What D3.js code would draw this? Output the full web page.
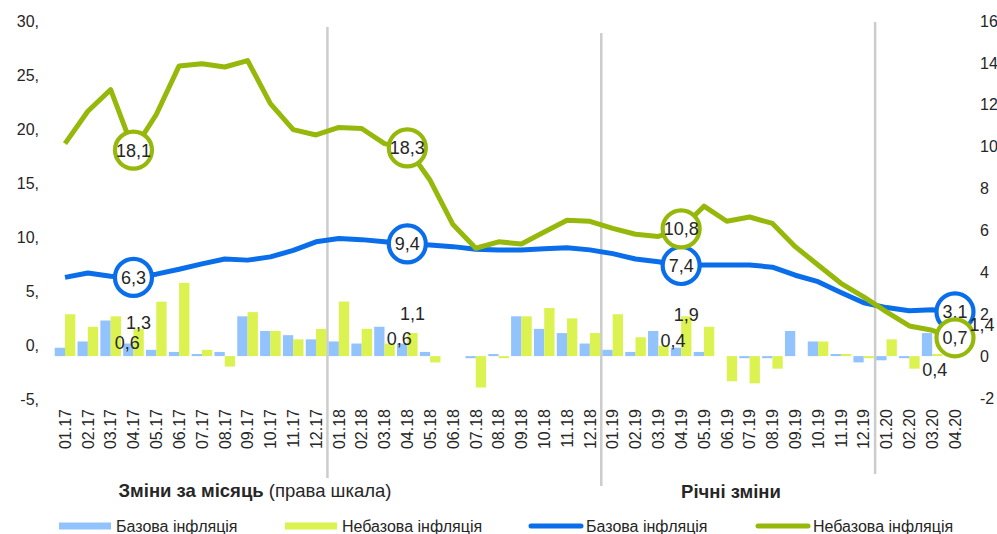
<!DOCTYPE html>
<html>
<head>
<meta charset="utf-8">
<script src="https://cdn.jsdelivr.net/npm/d3@7"></script>
<style>
    body { margin: 0; background: #fff; }
    svg { font-family: "Liberation Sans", Arial, sans-serif; }
</style>
</head>
<body>
<svg id="chart" width="997" height="534"></svg>
<script>

var months = ["01.17","02.17","03.17","04.17","05.17","06.17","07.17","08.17","09.17","10.17","11.17","12.17",
              "01.18","02.18","03.18","04.18","05.18","06.18","07.18","08.18","09.18","10.18","11.18","12.18",
              "01.19","02.19","03.19","04.19","05.19","06.19","07.19","08.19","09.19","10.19","11.19","12.19",
              "01.20","02.20","03.20","04.20"];

// monthly changes, right scale
var coreMonthly    = [0.4, 0.7, 1.7, 0.6, 0.3, 0.2, 0.1, 0.2, 1.9, 1.2, 1.0, 0.8,
                      0.7, 0.6, 1.4, 0.6, 0.2, 0.0, -0.1, 0.1, 1.9, 1.3, 1.1, 0.6,
                      0.3, 0.2, 1.2, 0.4, 0.2, 0.0, -0.1, -0.1, 1.2, 0.7, 0.1, -0.3,
                      -0.2, -0.1, 1.1, 0.4];
var nonCoreMonthly = [2.0, 1.4, 1.9, 1.3, 2.6, 3.5, 0.3, -0.5, 2.1, 1.2, 0.8, 1.3,
                      2.6, 1.3, 0.6, 1.1, -0.3, 0.0, -1.5, -0.1, 1.9, 2.3, 1.8, 1.1,
                      2.0, 0.9, 0.5, 1.9, 1.4, -1.2, -1.3, -0.6, 0.0, 0.7, 0.1, -0.1,
                      0.8, -0.6, 0.1, 1.4];

// annual changes, left scale
var coreAnnual     = [6.3, 6.7, 6.4, 6.3, 6.6, 7.05, 7.55, 8.0, 7.9, 8.2, 8.8, 9.6,
                      9.9, 9.8, 9.6, 9.4, 9.3, 9.15, 8.9, 8.85, 8.85, 8.95, 9.05, 8.85,
                      8.5, 8.0, 7.75, 7.4, 7.45, 7.45, 7.45, 7.25, 6.5, 5.9, 4.9, 3.95,
                      3.5, 3.2, 3.3, 3.1];
var nonCoreAnnual  = [18.7, 21.7, 23.7, 18.1, 21.4, 25.9, 26.1, 25.8, 26.4, 22.4, 20.0, 19.5,
                      20.2, 20.1, 18.7, 18.3, 15.3, 11.2, 9.0, 9.6, 9.4, 10.5, 11.6, 11.5,
                      10.85, 10.3, 10.1, 10.8, 12.9, 11.5, 11.9, 11.3, 9.15, 7.45, 5.75, 4.5,
                      3.1, 1.8, 1.4, 0.7];

var leftTicks  = [-5, 0, 5, 10, 15, 20, 25, 30];
var rightTicks = [-2, 0, 2, 4, 6, 8, 10, 12, 14, 16];
var yearStarts = ["01.18", "01.19", "01.20"];
var markedMonths = ["04.17", "04.18", "04.19", "04.20"];

var coreBarColor = "#93c3fd", nonCoreBarColor = "#dbf250";
var coreLineColor = "#0a6eea", nonCoreLineColor = "#95b80a";
var textColor = "#262626";

var svg = d3.select("#chart");
var comma = function (v) { return d3.format(".1f")(v).replace(".", ","); };

var x = d3.scaleBand().domain(months).range([53.6, 966.4]).padding(0);
var yL = d3.scaleLinear().domain([-5, 30]).range([399.3, 21.7]);
var yR = d3.scaleLinear().domain([-2, 16]).range([398, 21]);
var barW = 10.3;

//****************************YEAR SEPARATORS***************************************************
var sepExtent = [[27, 478], [33, 486], [22, 474]];
svg.append("g").selectAll("line")
    .data(yearStarts)
    .enter().append("line")
    .attr("x1", function (d) { return x(d); })
    .attr("x2", function (d) { return x(d); })
    .attr("y1", function (d, i) { return sepExtent[i][0]; })
    .attr("y2", function (d, i) { return sepExtent[i][1]; })
    .attr("stroke", "#cccccc")
    .attr("stroke-width", 2.5);

//****************************AXES***************************************************
var axisL = svg.append("g").attr("transform", "translate(39,0)")
    .call(d3.axisLeft(yL).tickValues(leftTicks).tickSize(0).tickPadding(0)
        .tickFormat(function (d) { return d + ","; }));
var axisR = svg.append("g").attr("transform", "translate(980,0)")
    .call(d3.axisRight(yR).tickValues(rightTicks).tickSize(0).tickPadding(0)
        .tickFormat(function (d) { return String(d); }));
var axisX = svg.append("g").attr("transform", "translate(0,409)")
    .call(d3.axisBottom(x).tickSize(0));

[axisL, axisR, axisX].forEach(function (a) {
    a.select(".domain").remove();
    a.selectAll("text").attr("fill", textColor).style("font-size", "16px")
        .style("font-family", "'Liberation Sans', Arial, sans-serif");
});
axisX.selectAll("text")
    .attr("transform", "rotate(-90)")
    .attr("text-anchor", "end")
    .attr("x", 0).attr("y", 0).attr("dy", "0.36em");

//****************************BARS***************************************************
var barG = svg.append("g");
barG.selectAll("rect.core")
    .data(months)
    .enter().append("rect")
    .attr("class", "core")
    .attr("x", function (d) { return x(d) + x.bandwidth() / 2 - barW; })
    .attr("width", barW)
    .attr("y", function (d, i) { return yR(Math.max(0, coreMonthly[i])); })
    .attr("height", function (d, i) { return Math.abs(yR(coreMonthly[i]) - yR(0)); })
    .attr("fill", coreBarColor);
barG.selectAll("rect.noncore")
    .data(months)
    .enter().append("rect")
    .attr("class", "noncore")
    .attr("x", function (d) { return x(d) + x.bandwidth() / 2; })
    .attr("width", barW)
    .attr("y", function (d, i) { return yR(Math.max(0, nonCoreMonthly[i])); })
    .attr("height", function (d, i) { return Math.abs(yR(nonCoreMonthly[i]) - yR(0)); })
    .attr("fill", nonCoreBarColor);

//****************************LINES***************************************************
var cx = function (d) { return x(d) + x.bandwidth() / 2; };
function drawLine(values, color) {
    var line = d3.line()
        .x(function (d) { return cx(d); })
        .y(function (d, i) { return yL(values[i]); });
    svg.append("path")
        .datum(months)
        .attr("d", line)
        .attr("fill", "none")
        .attr("stroke", color)
        .attr("stroke-width", 5)
        .attr("stroke-linejoin", "round");
}
drawLine(coreAnnual, coreLineColor);
drawLine(nonCoreAnnual, nonCoreLineColor);

//****************************MARKED POINTS***************************************************
function drawMarks(values, color) {
    var g = svg.append("g").selectAll("g")
        .data(markedMonths)
        .enter().append("g")
        .attr("transform", function (d) {
            return "translate(" + cx(d) + "," + yL(values[months.indexOf(d)]) + ")";
        });
    g.append("circle")
        .attr("r", 18.5)
        .attr("fill", "#fff")
        .attr("stroke", color)
        .attr("stroke-width", 4.2);
    g.append("text")
        .attr("text-anchor", "middle")
        .attr("dy", "0.36em")
        .attr("fill", textColor)
        .style("font-size", "18px")
        .text(function (d) { return comma(values[months.indexOf(d)]); });
}
drawMarks(coreAnnual, coreLineColor);
drawMarks(nonCoreAnnual, nonCoreLineColor);

//****************************BAR LABELS***************************************************
// nudges from the top of the bar, as placed in the original
var coreNudge    = [[-1, -1], [-3, -5], [-3, -7], [-15, 22]];
var nonCoreNudge = [[0, -6], [0, -20], [0, -2], [22, -2]];
function drawBarLabels(values, side, nudge) {
    svg.append("g").selectAll("text")
        .data(markedMonths)
        .enter().append("text")
        .attr("x", function (d, i) { return cx(d) + side * barW / 2 + nudge[i][0]; })
        .attr("y", function (d, i) { return yR(values[months.indexOf(d)]) + nudge[i][1]; })
        .attr("dy", "0.36em")
        .attr("text-anchor", "middle")
        .attr("fill", textColor)
        .style("font-size", "18px")
        .text(function (d) { return comma(values[months.indexOf(d)]); });
}
drawBarLabels(coreMonthly, -1, coreNudge);
drawBarLabels(nonCoreMonthly, 1, nonCoreNudge);

//****************************SECTION TITLES***************************************************
var t1 = svg.append("text").attr("x", 255).attr("y", 497)
    .attr("text-anchor", "middle").attr("fill", textColor).style("font-size", "18.5px");
t1.append("tspan").style("font-weight", "bold").text("Зміни за місяць");
t1.append("tspan").text(" (права шкала)");
svg.append("text").attr("x", 731).attr("y", 498)
    .attr("text-anchor", "middle").attr("fill", textColor)
    .style("font-size", "18.5px").style("font-weight", "bold")
    .text("Річні зміни");

//****************************LEGEND***************************************************
var legendItems = [
    {name: "Базова інфляція", color: coreBarColor, kind: "bar", x: 59},
    {name: "Небазова інфляція", color: nonCoreBarColor, kind: "bar", x: 285},
    {name: "Базова інфляція", color: coreLineColor, kind: "line", x: 529},
    {name: "Небазова інфляція", color: nonCoreLineColor, kind: "line", x: 756}
];
var leg = svg.append("g").selectAll("g")
    .data(legendItems)
    .enter().append("g")
    .attr("transform", function (d) { return "translate(" + d.x + ",526)"; });
leg.filter(function (d) { return d.kind === "bar"; })
    .append("rect")
    .attr("x", 0).attr("y", -3.5).attr("width", 52).attr("height", 7)
    .attr("fill", function (d) { return d.color; });
leg.filter(function (d) { return d.kind === "line"; })
    .append("line")
    .attr("x1", 2).attr("x2", 52).attr("y1", 0).attr("y2", 0)
    .attr("stroke", function (d) { return d.color; })
    .attr("stroke-width", 5).attr("stroke-linecap", "round");
leg.append("text")
    .attr("x", 57).attr("dy", "0.36em")
    .attr("fill", textColor)
    .style("font-size", "16px")
    .text(function (d) { return d.name; });

</script>
</body>
</html>
